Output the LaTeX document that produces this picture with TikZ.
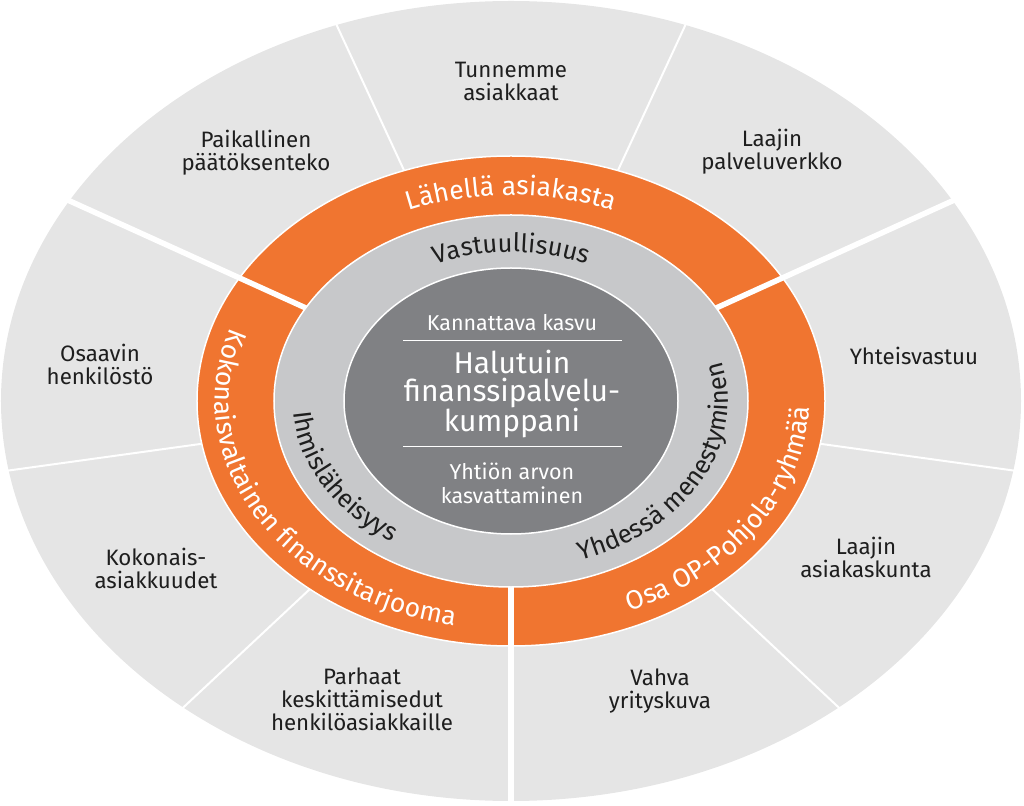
\documentclass[tikz,border=0pt]{standalone}
\usepackage{fontspec}
\setmainfont{Fira Sans}
\usetikzlibrary{decorations.text}
\definecolor{lightgr}{RGB}{229,229,229}
\definecolor{opor}{RGB}{240,117,48}
\definecolor{midgr}{RGB}{199,200,202}
\definecolor{darkgr}{RGB}{128,129,132}
\definecolor{ink}{RGB}{30,30,30}
\newcommand\outerfont{\fontsize{22.3}{23}\selectfont}
\newcommand\orfont{\fontsize{26.5}{26.5}\selectfont}
\newcommand\grfont{\fontsize{25.5}{25.5}\selectfont}
\newcommand\smallcore{\fontsize{21.5}{23.5}\selectfont}
\newcommand\bigcore{\fontsize{30}{28}\selectfont}
\begin{document}
\begin{tikzpicture}[x=1pt,y=1pt,
  septhin/.style={white, line width=2pt},
  septhick/.style={white, line width=5.5pt},
  ringedge/.style={draw=white, line width=1.5pt},
  outertext/.style={text=ink, align=center, font=\outerfont, inner sep=0pt},
  coretext/.style={text=white, align=center, inner sep=0pt},
  ringwhite/.style={decorate, decoration={text along path, text align=center, text color=white, text={|\orfont|#1}}},
  ringink/.style={decorate, decoration={text along path, text align=center, text color=ink, text={|\grfont|#1}}}]
\useasboundingbox (-511,-404) rectangle (513,401);
% outer ring
\fill[lightgr] (0,0) ellipse[x radius=510pt, y radius=400pt];
\foreach \a in {70,110,190,230,310,350}
  \draw[septhin] (0,0) -- (\a:511pt and 401pt);
% orange ring
\fill[opor, ringedge] (0,0) ellipse[x radius=314pt, y radius=245pt];
\foreach \a in {30,150,270}
  \draw[septhick] (0,0) -- (\a:512pt and 402pt);
% grey ring
\fill[midgr, ringedge] (0,0) ellipse[x radius=237pt, y radius=186pt];
% core
\fill[darkgr, ringedge] (0,0) ellipse[x radius=167pt, y radius=133pt];

% outer texts
\node[outertext] (t1) at (0,320) {Tunnemme\\asiakkaat};
\node[outertext] (t2) at (-255,248) {Paikallinen\\päätöksenteko};
\node[outertext] (t3) at (261,249) {Laajin\\palveluverkko};
\node[outertext] (t4) at (-411,37) {Osaavin\\henkilöstö};
\node[outertext] (t5) at (403,45) {Yhteisvastuu};
\node[outertext] (t6) at (-355,-167) {Kokonais-\\asiakkuudet};
\node[outertext] (t7) at (355,-156) {Laajin\\asiakaskunta};
\node[outertext] (t8) at (-149,-298) {Parhaat\\keskittämisedut\\henkilöasiakkaille};
\node[outertext] (t9) at (149,-290) {Vahva\\yrityskuva};

% orange ring texts
\path[ringwhite={Lähellä asiakasta}] (140:266pt and 206pt) arc[start angle=140, end angle=40, x radius=266pt, y radius=206pt];
\path[ringwhite={Kokonaisvaltainen finanssitarjooma}] (141:296pt and 229pt) arc[start angle=141, end angle=276, x radius=296pt, y radius=229pt];
\path[ringwhite={Osa OP-Pohjola-ryhmää}] (279:298pt and 229pt) arc[start angle=279, end angle=377, x radius=298pt, y radius=229pt];

% grey ring texts
\path[ringink={Vastuullisuus}] (130:191pt and 149pt) arc[start angle=130, end angle=50, x radius=191pt, y radius=149pt];
\path[ringink={Ihmisläheisyys}] (160:218pt and 168pt) arc[start angle=160, end angle=256, x radius=218pt, y radius=168pt];
\path[ringink={Yhdessä menestyminen}] (278:217pt and 168pt) arc[start angle=278, end angle=387, x radius=217pt, y radius=168pt];

% core texts
\node[coretext, font=\smallcore] (c1) at (1,78) {Kannattava kasvu};
\coordinate (l1a) at (-108,60); \coordinate (l1b) at (111,60);
\draw[white, line width=1pt] (l1a) -- (l1b);
\node[coretext, font=\bigcore] (c2) at (1,7) {Halutuin\\finanssipalvelu-\\kumppani};
\coordinate (l2a) at (-108,-46); \coordinate (l2b) at (111,-46);
\draw[white, line width=1pt] (l2a) -- (l2b);
\node[coretext, font=\smallcore] (c3) at (1,-82) {Yhtiön arvon\\kasvattaminen};
\end{tikzpicture}
\end{document}
